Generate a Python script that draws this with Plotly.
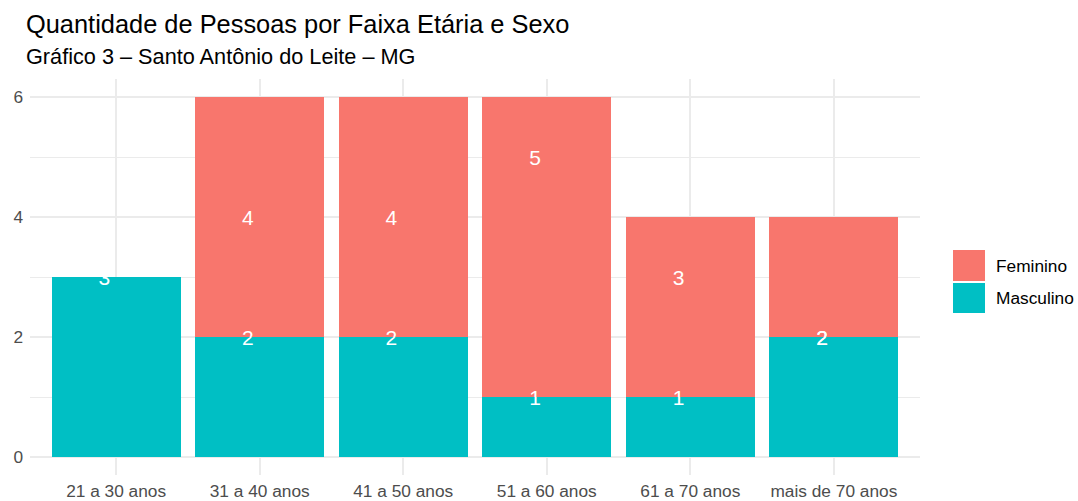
import plotly.graph_objects as go

categorias = ["21 a 30 anos", "31 a 40 anos", "41 a 50 anos", "51 a 60 anos", "61 a 70 anos", "mais de 70 anos"]
masculino = [3, 2, 2, 1, 1, 2]
feminino = [None, 4, 4, 5, 3, 2]
serie_nomes = ["Feminino", "Masculino"]
cores = {"Feminino": "#F8766D", "Masculino": "#00BFC4"}
titulo = "Quantidade de Pessoas por Faixa Etária e Sexo"
subtitulo = "Gráfico 3 – Santo Antônio do Leite – MG"

FONT = "Liberation Sans, Arial, sans-serif"
W, H = 1078, 501
ML, MR, MT, MB = 30, 158, 79, 26
PW, PH = W - ML - MR, H - MT - MB
NUDGE_X = -0.082  # labels sit slightly left of bar centre, as in the reference
NUDGE_Y = -0.05   # glyph centring correction

def px_x(x):
    return (x - ML) / PW

def px_y(y):
    return (H - MB - y) / PH

pos = list(range(len(categorias)))

fig = go.Figure()
fig.add_trace(go.Bar(x=pos, y=masculino, name="Masculino", marker_color=cores["Masculino"],
                     marker_line_width=0, width=0.9, showlegend=False, hoverinfo="skip"))
fig.add_trace(go.Bar(x=pos, y=feminino, name="Feminino", marker_color=cores["Feminino"],
                     marker_line_width=0, width=0.9, showlegend=False, hoverinfo="skip"))

# labels at y = count
for vals in (masculino, feminino):
    xs = [p + NUDGE_X for p, v in zip(pos, vals) if v is not None]
    ys = [v for v in vals if v is not None]
    fig.add_trace(go.Scatter(x=xs, y=[v + NUDGE_Y for v in ys], mode="text",
                             text=[str(v) for v in ys],
                             textposition="middle center",
                             textfont=dict(color="white", size=21, family=FONT),
                             showlegend=False, hoverinfo="skip"))

# custom ggplot-like legend
shapes = []
annotations = []
key_boxes = [(250, 281), (283, 313)]
for nome, (top, bot) in zip(serie_nomes, key_boxes):
    shapes.append(dict(type="rect", xref="paper", yref="paper",
                       x0=px_x(953), x1=px_x(985), y0=px_y(bot), y1=px_y(top),
                       fillcolor=cores[nome], line_width=0, layer="above"))
    annotations.append(dict(xref="paper", yref="paper", x=px_x(994), y=px_y((top + bot) / 2),
                            xanchor="left", yanchor="middle", showarrow=False, text=nome,
                            font=dict(size=17.3, color="black", family=FONT)))

annotations.append(dict(xref="paper", yref="paper", x=px_x(24), y=px_y(24), xanchor="left",
                        yanchor="middle", showarrow=False, text=titulo,
                        font=dict(size=25.4, color="black", family=FONT)))
annotations.append(dict(xref="paper", yref="paper", x=px_x(24), y=px_y(57), xanchor="left",
                        yanchor="middle", showarrow=False, text=subtitulo,
                        font=dict(size=21.7, color="black", family=FONT)))

fig.update_layout(
    width=W, height=H,
    margin=dict(l=ML, r=MR, t=MT, b=MB, pad=0, autoexpand=False),
    barmode="stack", bargap=0.1,
    plot_bgcolor="white", paper_bgcolor="white",
    font=dict(family=FONT, color="#4D4D4D"),
    shapes=shapes, annotations=annotations,
    showlegend=False,
)
fig.update_xaxes(range=[-0.6, 5.6], tickvals=pos, ticktext=categorias,
                 showgrid=True, gridcolor="#EBEBEB", gridwidth=2,
                 zeroline=False, showline=False, ticks="", automargin=False,
                 tickfont=dict(size=17.3, color="#4D4D4D", family=FONT),
                 ticklabelstandoff=4, fixedrange=True)
fig.update_yaxes(range=[-0.3, 6.3], tickvals=[0, 2, 4, 6], showgrid=True, gridcolor="#EBEBEB",
                 gridwidth=2, zeroline=False, showline=False, ticks="", automargin=False,
                 minor=dict(tickvals=[1, 3, 5], showgrid=True, gridcolor="#EBEBEB", gridwidth=1),
                 tickfont=dict(size=17.3, color="#4D4D4D", family=FONT),
                 ticklabelstandoff=6, fixedrange=True)

fig.write_html("out.html", config={"displayModeBar": False},
               post_script="document.body.style.margin='0';document.body.style.overflow='hidden';")
